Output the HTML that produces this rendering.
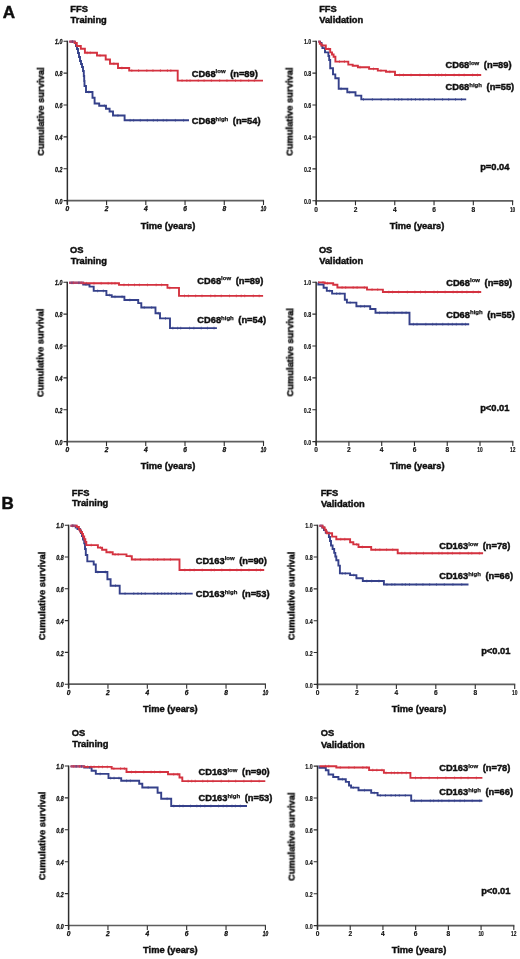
<!DOCTYPE html>
<html><head><meta charset="utf-8"><style>
html,body{margin:0;padding:0;background:#fff;}
svg{display:block;}
text{font-family:"Liberation Sans", sans-serif;fill:#111111;filter:url(#tb);}
.lb{font-size:9.3px;font-weight:bold;stroke:#111;stroke-width:0.45px;}
.sup{font-size:6px;stroke-width:0.25px;}
.cs{font-size:9.4px;}
.tl{font-size:6.6px;font-weight:bold;stroke:#111;stroke-width:0.15px;}
.big{font-size:17px;font-weight:bold;fill:#111;stroke:#111;stroke-width:0.5px;}
.cv{fill:none;stroke-width:1.9;stroke-linejoin:miter;filter:url(#bl);}
.ck{fill:none;stroke-width:0.6;filter:url(#bl);}
.it{font-style:italic;stroke-width:0.3px;}
</style></head><body>
<svg width="520" height="959" viewBox="0 0 520 959">
<defs><filter id="bl" filterUnits="userSpaceOnUse" x="0" y="0" width="520" height="959"><feGaussianBlur stdDeviation="0.45"/></filter><filter id="tb" filterUnits="userSpaceOnUse" x="-600" y="-600" width="2000" height="2200"><feGaussianBlur stdDeviation="0.3"/></filter></defs>
<path d="M66.66 200.6H264.1" stroke="#5e5e5e" stroke-width="1.7" fill="none"/>
<path d="M67.36 40.7V204.6" stroke="#2e2e2e" stroke-width="1.5" fill="none"/>
<path d="M63.56 200.6H67.36M63.56 168.72H67.36M63.56 136.84H67.36M63.56 104.96H67.36M63.56 73.08H67.36M63.56 41.2H67.36M67.36 200.6V205.1M106.59 200.6V205.1M145.82 200.6V205.1M185.04 200.6V205.1M224.27 200.6V205.1M263.5 200.6V205.1" stroke="#2e2e2e" stroke-width="1.1" fill="none"/>
<text x="62.46" y="203.7" class="tl it" text-anchor="end" textLength="7.4" lengthAdjust="spacingAndGlyphs">0.0</text>
<text x="62.46" y="171.82" class="tl it" text-anchor="end" textLength="7.4" lengthAdjust="spacingAndGlyphs">0.2</text>
<text x="62.46" y="139.94" class="tl it" text-anchor="end" textLength="7.4" lengthAdjust="spacingAndGlyphs">0.4</text>
<text x="62.46" y="108.06" class="tl it" text-anchor="end" textLength="7.4" lengthAdjust="spacingAndGlyphs">0.6</text>
<text x="62.46" y="76.18" class="tl it" text-anchor="end" textLength="7.4" lengthAdjust="spacingAndGlyphs">0.8</text>
<text x="62.46" y="44.3" class="tl it" text-anchor="end" textLength="7.4" lengthAdjust="spacingAndGlyphs">1.0</text>
<text x="67.36" y="211.3" class="tl it" text-anchor="middle">0</text>
<text x="106.59" y="211.3" class="tl it" text-anchor="middle">2</text>
<text x="145.82" y="211.3" class="tl it" text-anchor="middle">4</text>
<text x="185.04" y="211.3" class="tl it" text-anchor="middle">6</text>
<text x="224.27" y="211.3" class="tl it" text-anchor="middle">8</text>
<text x="263.5" y="211.3" class="tl it" text-anchor="middle" textLength="5.4" lengthAdjust="spacingAndGlyphs">10</text>
<path d="M69.36 41.6H74.8V43H76V46H77V49H78V53H79V57H80V61H81V64H82V67H83V71H83.8V76H84.2V81H84.5V86H86V92H92.5V97.7H94.6V103.5H99.2V105.8H106V108.8H109.6V111.5H113V115.5H124.6V120.3H189" stroke="#35418a" class="cv"/>
<path d="M69.36 41.6H74.8V43H76.8V46H80.8V48.8H84.9V52.8H97V55.5H105.7V59.5H110V63.7H118V68H129.2V70.6H177.7V80.6H263" stroke="#d4323f" class="cv"/>
<path d="M69.36 41.6H74.8" stroke="#b04470" class="cv"/>
<path d="M72.31 40.2v2.8M87.16 51.4v2.8M90.24 51.4v2.8M100.04 54.1v2.8M113.88 62.3v2.8M121.91 66.6v2.8M131.8 69.2v2.8M138.61 69.2v2.8M146.82 69.2v2.8M152.96 69.2v2.8M160.41 69.2v2.8M167.43 69.2v2.8M170.82 69.2v2.8M182.06 79.2v2.8M186.87 79.2v2.8M190.06 79.2v2.8M198.25 79.2v2.8M204.09 79.2v2.8M211.4 79.2v2.8M219.67 79.2v2.8M226.96 79.2v2.8M235.48 79.2v2.8M240.85 79.2v2.8M248.66 79.2v2.8M254.33 79.2v2.8" stroke="#d4323f" class="ck"/>
<path d="M72.3 40.2v2.8M88.86 90.6v2.8M104.4 104.4v2.8M117.93 114.1v2.8M130.12 118.9v2.8M133.64 118.9v2.8M140.28 118.9v2.8M147.31 118.9v2.8M153.34 118.9v2.8M157.41 118.9v2.8M163.25 118.9v2.8M166.79 118.9v2.8M175.39 118.9v2.8M183.59 118.9v2.8" stroke="#35418a" class="ck"/>
<text x="191.8" y="76.7" class="lb">CD68<tspan class="sup" dy="-3.3">low</tspan><tspan dy="3.3" dx="2.0"> (n=89)</tspan></text>
<text x="191.8" y="123.8" class="lb">CD68<tspan class="sup" dy="-3.3">high</tspan><tspan dy="3.3" dx="2.0"> (n=54)</tspan></text>
<text x="70.3" y="11.7" class="lb">FFS</text>
<text x="70.6" y="22.5" class="lb">Training</text>
<text transform="translate(40.9 111.6) rotate(-90)" x="0" y="3.2" class="lb cs" text-anchor="middle">Cumulative survival</text>
<text x="168" y="228.6" class="lb" text-anchor="middle">Time (years)</text>
<path d="M315.5 200.8H513.2" stroke="#5e5e5e" stroke-width="1.7" fill="none"/>
<path d="M316.2 40.7V204.8" stroke="#2e2e2e" stroke-width="1.5" fill="none"/>
<path d="M312.4 200.8H316.2M312.4 168.88H316.2M312.4 136.96H316.2M312.4 105.04H316.2M312.4 73.12H316.2M312.4 41.2H316.2M316.2 200.8V205.3M355.48 200.8V205.3M394.76 200.8V205.3M434.04 200.8V205.3M473.32 200.8V205.3M512.6 200.8V205.3" stroke="#2e2e2e" stroke-width="1.1" fill="none"/>
<text x="311.3" y="203.9" class="tl" text-anchor="end" textLength="7.4" lengthAdjust="spacingAndGlyphs">0.0</text>
<text x="311.3" y="171.98" class="tl" text-anchor="end" textLength="7.4" lengthAdjust="spacingAndGlyphs">0.2</text>
<text x="311.3" y="140.06" class="tl" text-anchor="end" textLength="7.4" lengthAdjust="spacingAndGlyphs">0.4</text>
<text x="311.3" y="108.14" class="tl" text-anchor="end" textLength="7.4" lengthAdjust="spacingAndGlyphs">0.6</text>
<text x="311.3" y="76.22" class="tl" text-anchor="end" textLength="7.4" lengthAdjust="spacingAndGlyphs">0.8</text>
<text x="311.3" y="44.3" class="tl" text-anchor="end" textLength="7.4" lengthAdjust="spacingAndGlyphs">1.0</text>
<text x="316.2" y="211.5" class="tl" text-anchor="middle">0</text>
<text x="355.48" y="211.5" class="tl" text-anchor="middle">2</text>
<text x="394.76" y="211.5" class="tl" text-anchor="middle">4</text>
<text x="434.04" y="211.5" class="tl" text-anchor="middle">6</text>
<text x="473.32" y="211.5" class="tl" text-anchor="middle">8</text>
<text x="512.6" y="211.5" class="tl" text-anchor="middle" textLength="5.4" lengthAdjust="spacingAndGlyphs">10</text>
<path d="M318.2 41.6H320V43H321.5V45.5H322.4V48.1H325V52.4H328.4V56H329.2V60H330.2V68.2H333V74.4H335.3V78.3H338.7V88.8H347.3V92.2H355.5V95.6H361.3V99.4H466.2" stroke="#35418a" class="cv"/>
<path d="M318.2 41.6H319.8V43.8H321.5V45.5H325.8V49H330.2V52.4H332V54.5H333.6V56.8H335.4V61.6H348.3V64.6H352.7V65.8H357.9V67.2H369.1V68.9H377.8V70.6H386V71.8H395V75H481.2" stroke="#d4323f" class="cv"/>
<path d="M318.2 41.6H319.8" stroke="#b04470" class="cv"/>
<path d="M328.62 47.6v2.8M339.48 60.2v2.8M344.45 60.2v2.8M360.08 65.8v2.8M373.51 67.5v2.8M380.93 69.2v2.8M389.83 70.4v2.8M399.65 73.6v2.8M403.45 73.6v2.8M411.05 73.6v2.8M419.95 73.6v2.8M428.76 73.6v2.8M435.44 73.6v2.8M438.71 73.6v2.8M441.73 73.6v2.8M445.54 73.6v2.8M454.18 73.6v2.8M459 73.6v2.8M464.2 73.6v2.8M472.59 73.6v2.8M477.47 73.6v2.8" stroke="#d4323f" class="ck"/>
<path d="M341.08 87.4v2.8M349.66 90.8v2.8M363.47 98v2.8M372.36 98v2.8M381.15 98v2.8M388.07 98v2.8M394.77 98v2.8M398.71 98v2.8M401.8 98v2.8M407.97 98v2.8M411.33 98v2.8M415.47 98v2.8M419.92 98v2.8M423.1 98v2.8M428.89 98v2.8M434.53 98v2.8M442.58 98v2.8M448.7 98v2.8M455.54 98v2.8M461.54 98v2.8" stroke="#35418a" class="ck"/>
<text x="445.5" y="67.9" class="lb">CD68<tspan class="sup" dy="-3.3">low</tspan><tspan dy="3.3" dx="2.0"> (n=89)</tspan></text>
<text x="445.5" y="90.4" class="lb">CD68<tspan class="sup" dy="-3.3">high</tspan><tspan dy="3.3" dx="2.0"> (n=55)</tspan></text>
<text x="319.2" y="11.5" class="lb">FFS</text>
<text x="319.2" y="22.8" class="lb">Validation</text>
<text transform="translate(289.6 111.7) rotate(-90)" x="0" y="3.2" class="lb cs" text-anchor="middle">Cumulative survival</text>
<text x="417" y="228.8" class="lb" text-anchor="middle">Time (years)</text>
<text x="480.2" y="169.8" class="lb">p=0.04</text>
<path d="M66.55 441.6H264.1" stroke="#5e5e5e" stroke-width="1.7" fill="none"/>
<path d="M67.25 281.8V445.6" stroke="#2e2e2e" stroke-width="1.5" fill="none"/>
<path d="M63.45 441.6H67.25M63.45 409.74H67.25M63.45 377.88H67.25M63.45 346.02H67.25M63.45 314.16H67.25M63.45 282.3H67.25M67.25 441.6V446.1M106.5 441.6V446.1M145.75 441.6V446.1M185 441.6V446.1M224.25 441.6V446.1M263.5 441.6V446.1" stroke="#2e2e2e" stroke-width="1.1" fill="none"/>
<text x="62.35" y="444.7" class="tl it" text-anchor="end" textLength="7.4" lengthAdjust="spacingAndGlyphs">0.0</text>
<text x="62.35" y="412.84" class="tl it" text-anchor="end" textLength="7.4" lengthAdjust="spacingAndGlyphs">0.2</text>
<text x="62.35" y="380.98" class="tl it" text-anchor="end" textLength="7.4" lengthAdjust="spacingAndGlyphs">0.4</text>
<text x="62.35" y="349.12" class="tl it" text-anchor="end" textLength="7.4" lengthAdjust="spacingAndGlyphs">0.6</text>
<text x="62.35" y="317.26" class="tl it" text-anchor="end" textLength="7.4" lengthAdjust="spacingAndGlyphs">0.8</text>
<text x="62.35" y="285.4" class="tl it" text-anchor="end" textLength="7.4" lengthAdjust="spacingAndGlyphs">1.0</text>
<text x="67.25" y="452.3" class="tl it" text-anchor="middle">0</text>
<text x="106.5" y="452.3" class="tl it" text-anchor="middle">2</text>
<text x="145.75" y="452.3" class="tl it" text-anchor="middle">4</text>
<text x="185" y="452.3" class="tl it" text-anchor="middle">6</text>
<text x="224.25" y="452.3" class="tl it" text-anchor="middle">8</text>
<text x="263.5" y="452.3" class="tl it" text-anchor="middle" textLength="5.4" lengthAdjust="spacingAndGlyphs">10</text>
<path d="M69.25 282.8H83.2V284.5H89.5V286.6H93.7V290.9H106.4V295.1H111.7V296.8H124.4V300H138.2V303.1H141.3V307.5H155.5V313.2H160V318.4H170V328.1H216.9" stroke="#35418a" class="cv"/>
<path d="M69.25 282.8H83.2V283.3H119V284.9H167.5V287.9H179V295.9H263.1" stroke="#d4323f" class="cv"/>
<path d="M69.25 282.8H83.2" stroke="#b04470" class="cv"/>
<path d="M73.34 281.4v2.8M81.18 281.4v2.8M86.36 281.9v2.8M93.96 281.9v2.8M101.18 281.9v2.8M108.15 281.9v2.8M111.81 281.9v2.8M114.97 281.9v2.8M123.99 283.5v2.8M128.5 283.5v2.8M134.51 283.5v2.8M139.41 283.5v2.8M147.49 283.5v2.8M156.16 283.5v2.8M161.57 283.5v2.8M169.75 286.5v2.8M184.5 294.5v2.8M188.41 294.5v2.8M195.64 294.5v2.8M201.99 294.5v2.8M210.72 294.5v2.8M214.98 294.5v2.8M221.22 294.5v2.8M229.52 294.5v2.8M236.35 294.5v2.8M241.21 294.5v2.8M244.7 294.5v2.8M253.34 294.5v2.8M259.18 294.5v2.8" stroke="#d4323f" class="ck"/>
<path d="M71.98 281.4v2.8M78.94 281.4v2.8M85.99 283.1v2.8M97.62 289.5v2.8M103.37 289.5v2.8M109.42 293.7v2.8M115 295.4v2.8M122.05 295.4v2.8M129.86 298.6v2.8M144.25 306.1v2.8M151.66 306.1v2.8M158.31 311.8v2.8M165.49 317v2.8M172.86 326.7v2.8M177.66 326.7v2.8M180.7 326.7v2.8M189.55 326.7v2.8M193.87 326.7v2.8M201.24 326.7v2.8M207.46 326.7v2.8M214.03 326.7v2.8" stroke="#35418a" class="ck"/>
<text x="197.3" y="283.5" class="lb">CD68<tspan class="sup" dy="-3.3">low</tspan><tspan dy="3.3" dx="2.0"> (n=89)</tspan></text>
<text x="197.3" y="322.8" class="lb">CD68<tspan class="sup" dy="-3.3">high</tspan><tspan dy="3.3" dx="2.0"> (n=54)</tspan></text>
<text x="70.1" y="252.5" class="lb">OS</text>
<text x="70.8" y="263.7" class="lb">Training</text>
<text transform="translate(40.5 352.9) rotate(-90)" x="0" y="3.2" class="lb cs" text-anchor="middle">Cumulative survival</text>
<text x="168" y="468.6" class="lb" text-anchor="middle">Time (years)</text>
<path d="M315.45 441.6H513.4" stroke="#5e5e5e" stroke-width="1.7" fill="none"/>
<path d="M316.15 281.7V445.6" stroke="#2e2e2e" stroke-width="1.5" fill="none"/>
<path d="M312.35 441.6H316.15M312.35 409.72H316.15M312.35 377.84H316.15M312.35 345.96H316.15M312.35 314.08H316.15M312.35 282.2H316.15M316.15 441.6V446.1M348.92 441.6V446.1M381.7 441.6V446.1M414.47 441.6V446.1M447.25 441.6V446.1M480.02 441.6V446.1M512.8 441.6V446.1" stroke="#2e2e2e" stroke-width="1.1" fill="none"/>
<text x="311.25" y="444.7" class="tl" text-anchor="end" textLength="7.4" lengthAdjust="spacingAndGlyphs">0.0</text>
<text x="311.25" y="412.82" class="tl" text-anchor="end" textLength="7.4" lengthAdjust="spacingAndGlyphs">0.2</text>
<text x="311.25" y="380.94" class="tl" text-anchor="end" textLength="7.4" lengthAdjust="spacingAndGlyphs">0.4</text>
<text x="311.25" y="349.06" class="tl" text-anchor="end" textLength="7.4" lengthAdjust="spacingAndGlyphs">0.6</text>
<text x="311.25" y="317.18" class="tl" text-anchor="end" textLength="7.4" lengthAdjust="spacingAndGlyphs">0.8</text>
<text x="311.25" y="285.3" class="tl" text-anchor="end" textLength="7.4" lengthAdjust="spacingAndGlyphs">1.0</text>
<text x="316.15" y="452.3" class="tl" text-anchor="middle">0</text>
<text x="348.92" y="452.3" class="tl" text-anchor="middle">2</text>
<text x="381.7" y="452.3" class="tl" text-anchor="middle">4</text>
<text x="414.47" y="452.3" class="tl" text-anchor="middle">6</text>
<text x="447.25" y="452.3" class="tl" text-anchor="middle">8</text>
<text x="480.02" y="452.3" class="tl" text-anchor="middle" textLength="5.4" lengthAdjust="spacingAndGlyphs">10</text>
<text x="512.8" y="452.3" class="tl" text-anchor="middle" textLength="5.4" lengthAdjust="spacingAndGlyphs">12</text>
<path d="M318.15 282.4H318.3V284.5H323.6V287.7H326.8V290.9H332.1V293.6H344.8V299.8H346.9V302.6H356.4V306.3H370.2V309H375.5V312.8H409.5V324.2H469.2" stroke="#35418a" class="cv"/>
<path d="M318.15 282.4H324.7V283.2H333.2V284.8H337.4V287.5H367V289.6H382.9V292H481.2" stroke="#d4323f" class="cv"/>
<path d="M318.15 282.4H318.3" stroke="#b04470" class="cv"/>
<path d="M323 281v2.8M327.43 281.8v2.8M342.08 286.1v2.8M345.63 286.1v2.8M353.18 286.1v2.8M357.09 286.1v2.8M364.33 286.1v2.8M372.06 288.2v2.8M377.71 288.2v2.8M388.85 290.6v2.8M392.55 290.6v2.8M398.65 290.6v2.8M407.4 290.6v2.8M414.83 290.6v2.8M420.5 290.6v2.8M425.32 290.6v2.8M434.04 290.6v2.8M437.55 290.6v2.8M445.12 290.6v2.8M453.18 290.6v2.8M457.12 290.6v2.8M462.08 290.6v2.8M466.91 290.6v2.8M473.17 290.6v2.8M478.37 290.6v2.8" stroke="#d4323f" class="ck"/>
<path d="M329.66 289.5v2.8M336.65 292.2v2.8M339.9 292.2v2.8M350.12 301.2v2.8M360.75 304.9v2.8M364.5 304.9v2.8M379.55 311.4v2.8M387.32 311.4v2.8M394.07 311.4v2.8M402.01 311.4v2.8M406.1 311.4v2.8M413.38 322.8v2.8M417 322.8v2.8M425.84 322.8v2.8M432.66 322.8v2.8M436.25 322.8v2.8M442.74 322.8v2.8M448.23 322.8v2.8M452.37 322.8v2.8M456.33 322.8v2.8M462.1 322.8v2.8M465.52 322.8v2.8" stroke="#35418a" class="ck"/>
<text x="446.2" y="285.7" class="lb">CD68<tspan class="sup" dy="-3.3">low</tspan><tspan dy="3.3" dx="2.0"> (n=89)</tspan></text>
<text x="446.2" y="317.6" class="lb">CD68<tspan class="sup" dy="-3.3">high</tspan><tspan dy="3.3" dx="2.0"> (n=55)</tspan></text>
<text x="318.9" y="252.5" class="lb">OS</text>
<text x="319.2" y="263.7" class="lb">Validation</text>
<text transform="translate(290.25 352.4) rotate(-90)" x="0" y="3.2" class="lb cs" text-anchor="middle">Cumulative survival</text>
<text x="417.2" y="469.1" class="lb" text-anchor="middle">Time (years)</text>
<text x="480.2" y="410.5" class="lb">p&lt;0.01</text>
<path d="M67.9 684.2H266" stroke="#5e5e5e" stroke-width="1.7" fill="none"/>
<path d="M68.6 524.7V688.2" stroke="#2e2e2e" stroke-width="1.5" fill="none"/>
<path d="M64.8 684.2H68.6M64.8 652.4H68.6M64.8 620.6H68.6M64.8 588.8H68.6M64.8 557H68.6M64.8 525.2H68.6M68.6 684.2V688.7M107.96 684.2V688.7M147.32 684.2V688.7M186.68 684.2V688.7M226.04 684.2V688.7M265.4 684.2V688.7" stroke="#2e2e2e" stroke-width="1.1" fill="none"/>
<text x="63.7" y="687.3" class="tl it" text-anchor="end" textLength="7.4" lengthAdjust="spacingAndGlyphs">0.0</text>
<text x="63.7" y="655.5" class="tl it" text-anchor="end" textLength="7.4" lengthAdjust="spacingAndGlyphs">0.2</text>
<text x="63.7" y="623.7" class="tl it" text-anchor="end" textLength="7.4" lengthAdjust="spacingAndGlyphs">0.4</text>
<text x="63.7" y="591.9" class="tl it" text-anchor="end" textLength="7.4" lengthAdjust="spacingAndGlyphs">0.6</text>
<text x="63.7" y="560.1" class="tl it" text-anchor="end" textLength="7.4" lengthAdjust="spacingAndGlyphs">0.8</text>
<text x="63.7" y="528.3" class="tl it" text-anchor="end" textLength="7.4" lengthAdjust="spacingAndGlyphs">1.0</text>
<text x="68.6" y="694.9" class="tl it" text-anchor="middle">0</text>
<text x="107.96" y="694.9" class="tl it" text-anchor="middle">2</text>
<text x="147.32" y="694.9" class="tl it" text-anchor="middle">4</text>
<text x="186.68" y="694.9" class="tl it" text-anchor="middle">6</text>
<text x="226.04" y="694.9" class="tl it" text-anchor="middle">8</text>
<text x="265.4" y="694.9" class="tl it" text-anchor="middle" textLength="5.4" lengthAdjust="spacingAndGlyphs">10</text>
<path d="M70.6 525.8H75.7V527.5H77.5V529H79.9V530.7H81V533H82V536H83V539.5H84.2V543.4H85V549H85.8V555H87.3V561.4H93.7V564.5H95.8V572H107.4V579.3H110.6V585.7H119.7V593.6H192.7" stroke="#35418a" class="cv"/>
<path d="M70.6 525.8H76.8V527H78.9V529.6H80.5V532H82V533.9H83V536.5H84.2V539.2H85.3V542H86.3V545.1H97.9V547.6H102.1V549.7H106.4V552.3H112.7V554.4H126.5V556.1H131.8V559.5H179.5V570H264.2" stroke="#d4323f" class="cv"/>
<path d="M70.6 525.8H75.7" stroke="#b04470" class="cv"/>
<path d="M72.65 524.4v2.8M91.26 543.7v2.8M100.45 546.2v2.8M110.05 550.9v2.8M115.07 553v2.8M118.19 553v2.8M130.11 554.7v2.8M135.12 558.1v2.8M140.31 558.1v2.8M149.04 558.1v2.8M153.3 558.1v2.8M157.6 558.1v2.8M164.11 558.1v2.8M170.4 558.1v2.8M184.85 568.6v2.8M189.99 568.6v2.8M194.21 568.6v2.8M202.23 568.6v2.8M211.16 568.6v2.8M214.35 568.6v2.8M221.76 568.6v2.8M229.97 568.6v2.8M236.87 568.6v2.8M241.18 568.6v2.8M248.96 568.6v2.8M256.34 568.6v2.8M260.5 568.6v2.8" stroke="#d4323f" class="ck"/>
<path d="M72.91 524.4v2.8M97.8 570.6v2.8M105.33 570.6v2.8M115.52 584.3v2.8M125.05 592.2v2.8M133.77 592.2v2.8M137.98 592.2v2.8M141.47 592.2v2.8M145.19 592.2v2.8M154.06 592.2v2.8M157.73 592.2v2.8M161.69 592.2v2.8M164.81 592.2v2.8M168.1 592.2v2.8M171.33 592.2v2.8M176.45 592.2v2.8M180.43 592.2v2.8M185.29 592.2v2.8" stroke="#35418a" class="ck"/>
<text x="195.7" y="563.7" class="lb">CD163<tspan class="sup" dy="-3.3">low</tspan><tspan dy="3.3" dx="2.0"> (n=90)</tspan></text>
<text x="195.7" y="597" class="lb">CD163<tspan class="sup" dy="-3.3">high</tspan><tspan dy="3.3" dx="2.0"> (n=53)</tspan></text>
<text x="71.8" y="495.5" class="lb">FFS</text>
<text x="72.1" y="505.9" class="lb">Training</text>
<text transform="translate(42.2 596) rotate(-90)" x="0" y="3.2" class="lb cs" text-anchor="middle">Cumulative survival</text>
<text x="170.4" y="712.3" class="lb" text-anchor="middle">Time (years)</text>
<path d="M316.8 684.4H515.3" stroke="#5e5e5e" stroke-width="1.7" fill="none"/>
<path d="M317.5 524.7V688.4" stroke="#2e2e2e" stroke-width="1.5" fill="none"/>
<path d="M313.7 684.4H317.5M313.7 652.56H317.5M313.7 620.72H317.5M313.7 588.88H317.5M313.7 557.04H317.5M313.7 525.2H317.5M317.5 684.4V688.9M356.94 684.4V688.9M396.38 684.4V688.9M435.82 684.4V688.9M475.26 684.4V688.9M514.7 684.4V688.9" stroke="#2e2e2e" stroke-width="1.1" fill="none"/>
<text x="312.6" y="687.5" class="tl" text-anchor="end" textLength="7.4" lengthAdjust="spacingAndGlyphs">0.0</text>
<text x="312.6" y="655.66" class="tl" text-anchor="end" textLength="7.4" lengthAdjust="spacingAndGlyphs">0.2</text>
<text x="312.6" y="623.82" class="tl" text-anchor="end" textLength="7.4" lengthAdjust="spacingAndGlyphs">0.4</text>
<text x="312.6" y="591.98" class="tl" text-anchor="end" textLength="7.4" lengthAdjust="spacingAndGlyphs">0.6</text>
<text x="312.6" y="560.14" class="tl" text-anchor="end" textLength="7.4" lengthAdjust="spacingAndGlyphs">0.8</text>
<text x="312.6" y="528.3" class="tl" text-anchor="end" textLength="7.4" lengthAdjust="spacingAndGlyphs">1.0</text>
<text x="317.5" y="695.1" class="tl" text-anchor="middle">0</text>
<text x="356.94" y="695.1" class="tl" text-anchor="middle">2</text>
<text x="396.38" y="695.1" class="tl" text-anchor="middle">4</text>
<text x="435.82" y="695.1" class="tl" text-anchor="middle">6</text>
<text x="475.26" y="695.1" class="tl" text-anchor="middle">8</text>
<text x="514.7" y="695.1" class="tl" text-anchor="middle" textLength="5.4" lengthAdjust="spacingAndGlyphs">10</text>
<path d="M319.5 525.8H322.2V527.5H324V530H325.8V532.8H328.9V537H330V541H331V545.5H332.6V549H334.2V552.9H335.3V556.5H336.3V560.3H338.4V565.6H339.9V573.4H350.1V575.1H356.4V578.3H362.8V581H383.9V584.5H468.5" stroke="#35418a" class="cv"/>
<path d="M319.5 525.8H322.6V527.5H324.7V529.6H325.8V531.5H326.8V533.2H332.1V536.6H336.3V539.2H350.1V542.3H353.3V544.4H358.5V547H371.2V549.7H397.7V553.2H483.1" stroke="#d4323f" class="cv"/>
<path d="M319.5 525.8H322.2" stroke="#b04470" class="cv"/>
<path d="M340.73 537.8v2.8M344.75 537.8v2.8M356.62 543v2.8M362.39 545.6v2.8M375.53 548.3v2.8M379.87 548.3v2.8M386.55 548.3v2.8M392.72 548.3v2.8M401.81 551.8v2.8M404.88 551.8v2.8M410.12 551.8v2.8M416.34 551.8v2.8M423.46 551.8v2.8M432.22 551.8v2.8M438.9 551.8v2.8M442.05 551.8v2.8M447.9 551.8v2.8M452.41 551.8v2.8M459.89 551.8v2.8M468.25 551.8v2.8M471.77 551.8v2.8M479.4 551.8v2.8" stroke="#d4323f" class="ck"/>
<path d="M342.19 572v2.8M345.25 572v2.8M353.79 573.7v2.8M366.85 579.6v2.8M371.65 579.6v2.8M378.95 579.6v2.8M386.93 583.1v2.8M391.85 583.1v2.8M394.86 583.1v2.8M402.11 583.1v2.8M405.38 583.1v2.8M409.51 583.1v2.8M416.23 583.1v2.8M422.95 583.1v2.8M429.66 583.1v2.8M436.46 583.1v2.8M444.27 583.1v2.8M452.94 583.1v2.8M461.74 583.1v2.8" stroke="#35418a" class="ck"/>
<text x="439.2" y="549.3" class="lb">CD163<tspan class="sup" dy="-3.3">low</tspan><tspan dy="3.3" dx="2.0"> (n=78)</tspan></text>
<text x="439.2" y="579.4" class="lb">CD163<tspan class="sup" dy="-3.3">high</tspan><tspan dy="3.3" dx="2.0"> (n=66)</tspan></text>
<text x="320.7" y="495.5" class="lb">FFS</text>
<text x="320.9" y="506.5" class="lb">Validation</text>
<text transform="translate(291.5 596) rotate(-90)" x="0" y="3.2" class="lb cs" text-anchor="middle">Cumulative survival</text>
<text x="419" y="712.3" class="lb" text-anchor="middle">Time (years)</text>
<text x="481.2" y="653.8" class="lb">p&lt;0.01</text>
<path d="M67.9 925.5H266" stroke="#5e5e5e" stroke-width="1.7" fill="none"/>
<path d="M68.6 765.5V929.5" stroke="#2e2e2e" stroke-width="1.5" fill="none"/>
<path d="M64.8 925.5H68.6M64.8 893.6H68.6M64.8 861.7H68.6M64.8 829.8H68.6M64.8 797.9H68.6M64.8 766H68.6M68.6 925.5V930M107.96 925.5V930M147.32 925.5V930M186.68 925.5V930M226.04 925.5V930M265.4 925.5V930" stroke="#2e2e2e" stroke-width="1.1" fill="none"/>
<text x="63.7" y="928.6" class="tl it" text-anchor="end" textLength="7.4" lengthAdjust="spacingAndGlyphs">0.0</text>
<text x="63.7" y="896.7" class="tl it" text-anchor="end" textLength="7.4" lengthAdjust="spacingAndGlyphs">0.2</text>
<text x="63.7" y="864.8" class="tl it" text-anchor="end" textLength="7.4" lengthAdjust="spacingAndGlyphs">0.4</text>
<text x="63.7" y="832.9" class="tl it" text-anchor="end" textLength="7.4" lengthAdjust="spacingAndGlyphs">0.6</text>
<text x="63.7" y="801" class="tl it" text-anchor="end" textLength="7.4" lengthAdjust="spacingAndGlyphs">0.8</text>
<text x="63.7" y="769.1" class="tl it" text-anchor="end" textLength="7.4" lengthAdjust="spacingAndGlyphs">1.0</text>
<text x="68.6" y="936.2" class="tl it" text-anchor="middle">0</text>
<text x="107.96" y="936.2" class="tl it" text-anchor="middle">2</text>
<text x="147.32" y="936.2" class="tl it" text-anchor="middle">4</text>
<text x="186.68" y="936.2" class="tl it" text-anchor="middle">6</text>
<text x="226.04" y="936.2" class="tl it" text-anchor="middle">8</text>
<text x="265.4" y="936.2" class="tl it" text-anchor="middle" textLength="5.4" lengthAdjust="spacingAndGlyphs">10</text>
<path d="M70.6 766.4H84.2V767.5H91.6V770.7H95.8V773.9H108.5V778.1H121.2V780.8H139.2V783.8H142.3V787.5H157.6V792.7H161.2V798.7H171.2V806H247" stroke="#35418a" class="cv"/>
<path d="M70.6 766.4H84.2V766.9H111.7V768.6H126.5V772H168V774.3H179.5V777.5H182.3V781.1H265.3" stroke="#d4323f" class="cv"/>
<path d="M70.6 766.4H84.2" stroke="#b04470" class="cv"/>
<path d="M73.69 765v2.8M79.62 765v2.8M87.55 765.5v2.8M90.99 765.5v2.8M94.06 765.5v2.8M98.76 765.5v2.8M102.46 765.5v2.8M107.33 765.5v2.8M113.84 767.2v2.8M120.59 767.2v2.8M124.4 767.2v2.8M131.45 770.6v2.8M135.71 770.6v2.8M143.8 770.6v2.8M151.11 770.6v2.8M154.56 770.6v2.8M160 770.6v2.8M173.69 772.9v2.8M177.73 772.9v2.8M188.15 779.7v2.8M191.71 779.7v2.8M195.25 779.7v2.8M202.76 779.7v2.8M207.66 779.7v2.8M212.98 779.7v2.8M221.24 779.7v2.8M228.71 779.7v2.8M235.68 779.7v2.8M243.88 779.7v2.8M251.28 779.7v2.8M259.14 779.7v2.8" stroke="#d4323f" class="ck"/>
<path d="M76.15 765v2.8M81.55 765v2.8M89.64 766.1v2.8M100.13 772.5v2.8M110.63 776.7v2.8M114.04 776.7v2.8M118.96 776.7v2.8M126.57 779.4v2.8M130.38 779.4v2.8M148.17 786.1v2.8M167.1 797.3v2.8M173.82 804.6v2.8M179.62 804.6v2.8M183.06 804.6v2.8M190.56 804.6v2.8M196.82 804.6v2.8M200.48 804.6v2.8M204.84 804.6v2.8M210.88 804.6v2.8M218.55 804.6v2.8M223.2 804.6v2.8M226.84 804.6v2.8M231.97 804.6v2.8M235.38 804.6v2.8M240.4 804.6v2.8" stroke="#35418a" class="ck"/>
<text x="198.5" y="775.4" class="lb">CD163<tspan class="sup" dy="-3.3">low</tspan><tspan dy="3.3" dx="2.0"> (n=90)</tspan></text>
<text x="198.5" y="800.9" class="lb">CD163<tspan class="sup" dy="-3.3">high</tspan><tspan dy="3.3" dx="2.0"> (n=53)</tspan></text>
<text x="71.8" y="736" class="lb">OS</text>
<text x="72.3" y="746.9" class="lb">Training</text>
<text transform="translate(42.3 836) rotate(-90)" x="0" y="3.2" class="lb cs" text-anchor="middle">Cumulative survival</text>
<text x="170.4" y="952.6" class="lb" text-anchor="middle">Time (years)</text>
<path d="M316.8 925.6H514.4" stroke="#5e5e5e" stroke-width="1.7" fill="none"/>
<path d="M317.5 765.6V929.6" stroke="#2e2e2e" stroke-width="1.5" fill="none"/>
<path d="M313.7 925.6H317.5M313.7 893.7H317.5M313.7 861.8H317.5M313.7 829.9H317.5M313.7 798H317.5M313.7 766.1H317.5M317.5 925.6V930.1M350.22 925.6V930.1M382.93 925.6V930.1M415.65 925.6V930.1M448.37 925.6V930.1M481.08 925.6V930.1M513.8 925.6V930.1" stroke="#2e2e2e" stroke-width="1.1" fill="none"/>
<text x="312.6" y="928.7" class="tl" text-anchor="end" textLength="7.4" lengthAdjust="spacingAndGlyphs">0.0</text>
<text x="312.6" y="896.8" class="tl" text-anchor="end" textLength="7.4" lengthAdjust="spacingAndGlyphs">0.2</text>
<text x="312.6" y="864.9" class="tl" text-anchor="end" textLength="7.4" lengthAdjust="spacingAndGlyphs">0.4</text>
<text x="312.6" y="833" class="tl" text-anchor="end" textLength="7.4" lengthAdjust="spacingAndGlyphs">0.6</text>
<text x="312.6" y="801.1" class="tl" text-anchor="end" textLength="7.4" lengthAdjust="spacingAndGlyphs">0.8</text>
<text x="312.6" y="769.2" class="tl" text-anchor="end" textLength="7.4" lengthAdjust="spacingAndGlyphs">1.0</text>
<text x="317.5" y="936.3" class="tl" text-anchor="middle">0</text>
<text x="350.22" y="936.3" class="tl" text-anchor="middle">2</text>
<text x="382.93" y="936.3" class="tl" text-anchor="middle">4</text>
<text x="415.65" y="936.3" class="tl" text-anchor="middle">6</text>
<text x="448.37" y="936.3" class="tl" text-anchor="middle">8</text>
<text x="481.08" y="936.3" class="tl" text-anchor="middle" textLength="5.4" lengthAdjust="spacingAndGlyphs">10</text>
<text x="513.8" y="936.3" class="tl" text-anchor="middle" textLength="5.4" lengthAdjust="spacingAndGlyphs">12</text>
<path d="M319.5 766.2H319.4V767.9H325.8V770.3H328.5V774.5H333.2V777H338.4V779.2H345.8V781.9H349V785.5H351.1V787.6H358.5V790.2H371.2V792.9H377.6V795.4H411.2V800.8H482.4" stroke="#35418a" class="cv"/>
<path d="M319.5 766.2H336.3V767.5H369.1V770.1H383.9V772.9H410.4V777.9H482.4" stroke="#d4323f" class="cv"/>
<path d="M319.5 766.2H319.4" stroke="#b04470" class="cv"/>
<path d="M325.41 764.8v2.8M328.74 764.8v2.8M340.24 766.1v2.8M348.89 766.1v2.8M354.33 766.1v2.8M362.84 766.1v2.8M366.8 766.1v2.8M372.75 768.7v2.8M376.85 768.7v2.8M381.93 768.7v2.8M386.04 771.5v2.8M391.36 771.5v2.8M394.43 771.5v2.8M397.84 771.5v2.8M401.86 771.5v2.8M406.25 771.5v2.8M415.51 776.5v2.8M421.01 776.5v2.8M429.15 776.5v2.8M437.54 776.5v2.8M445.92 776.5v2.8M454.6 776.5v2.8M461.06 776.5v2.8M468.08 776.5v2.8M476.37 776.5v2.8" stroke="#d4323f" class="ck"/>
<path d="M342.48 777.8v2.8M353.25 786.2v2.8M364.49 788.8v2.8M374.24 791.5v2.8M380.28 794v2.8M385.44 794v2.8M391.08 794v2.8M395.46 794v2.8M399.29 794v2.8M405.33 794v2.8M414.47 799.4v2.8M421.43 799.4v2.8M430.33 799.4v2.8M433.66 799.4v2.8M438.33 799.4v2.8M441.87 799.4v2.8M448.93 799.4v2.8M454.41 799.4v2.8M460.05 799.4v2.8M464.53 799.4v2.8M472.19 799.4v2.8M479.74 799.4v2.8" stroke="#35418a" class="ck"/>
<text x="439.2" y="770.9" class="lb">CD163<tspan class="sup" dy="-3.3">low</tspan><tspan dy="3.3" dx="2.0"> (n=78)</tspan></text>
<text x="439.2" y="794.8" class="lb">CD163<tspan class="sup" dy="-3.3">high</tspan><tspan dy="3.3" dx="2.0"> (n=66)</tspan></text>
<text x="320.7" y="736.2" class="lb">OS</text>
<text x="320.9" y="747.5" class="lb">Validation</text>
<text transform="translate(291.6 836.7) rotate(-90)" x="0" y="3.2" class="lb cs" text-anchor="middle">Cumulative survival</text>
<text x="419" y="953.1" class="lb" text-anchor="middle">Time (years)</text>
<text x="481.2" y="894.2" class="lb">p&lt;0.01</text>
<text x="2.8" y="18.3" class="big">A</text>
<text x="1.5" y="509.3" class="big">B</text>
</svg>
</body></html>
